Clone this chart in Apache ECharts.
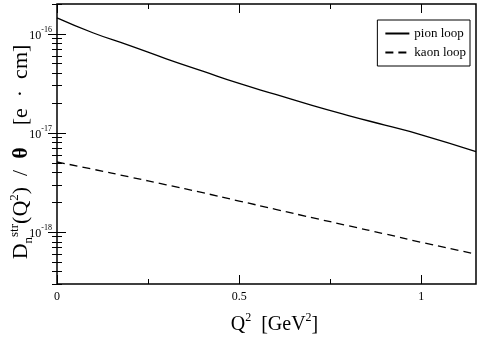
<!DOCTYPE html>
<html>
<head>
<meta charset="utf-8">
<script src="https://cdn.jsdelivr.net/npm/echarts@6/dist/echarts.min.js"></script>
<style>
html, body { margin: 0; padding: 0; background: #fff; }
#chart { width: 484px; height: 338px; }
</style>
</head>
<body>
<div id="chart"></div>
<script>
// Q^2 sample points [GeV^2]
var q2 = [0, 0.1, 0.2, 0.3, 0.4, 0.5, 0.6, 0.7, 0.8, 0.9, 1.0, 1.15];
// D_n^str / theta [e cm]
var pionLoop = [1.45e-16, 1.02e-16, 7.6e-17, 5.6e-17, 4.2e-17, 3.16e-17, 2.45e-17, 1.9e-17, 1.5e-17, 1.2e-17, 9.6e-18, 6.5e-18];
var kaonLoop = [5.1e-18, 4.3e-18, 3.6e-18, 3.0e-18, 2.5e-18, 2.06e-18, 1.7e-18, 1.4e-18, 1.16e-18, 9.6e-19, 7.9e-19, 6.0e-19];

var xMajorTicks = [0, 0.5, 1];
var xMinorTicks = [0.25, 0.75];
var yMajorTicks = [1e-18, 1e-17, 1e-16];
var yMin = 3e-19, yMax = 2e-16;
var xMin = 0, xMax = 1.15;

var yMinorTicks = [];
[1e-19, 1e-18, 1e-17, 1e-16].forEach(function (d) {
    for (var k = 2; k <= 9; k++) {
        if (k * d >= yMin && k * d <= yMax) { yMinorTicks.push(k * d); }
    }
});

var serif = 'Liberation Serif';

function pairs(vals) {
    return q2.map(function (x, i) { return [x, vals[i]]; });
}

function xAxisDef(pos, ticks, len, withLabels) {
    var a = {
        type: 'value', position: pos, offset: 0, min: xMin, max: xMax,
        axisLine: { show: false },
        splitLine: { show: false },
        axisTick: { show: true, inside: true, length: len, customValues: ticks,
            lineStyle: { color: '#000', width: 1 } },
        axisLabel: { show: false }
    };
    if (withLabels) {
        a.axisLabel = { show: true, customValues: ticks, margin: 7,
            fontFamily: serif, fontSize: 12, color: '#000',
            formatter: function (v) { return String(v); } };
        a.name = '{m|Q}{s|2}{m|  [GeV}{s|2}{m|]}';
        a.nameLocation = 'middle';
        a.nameGap = 28;
        a.nameMoveOverlap = false;
        a.nameTextStyle = { fontFamily: serif, padding: [0, 0, 0, 16], rich: {
            m: { fontFamily: serif, fontSize: 20, color: '#000', lineHeight: 23, verticalAlign: 'bottom' },
            s: { fontFamily: serif, fontSize: 12, color: '#000', lineHeight: 23, verticalAlign: 'top' }
        } };
    }
    return a;
}

function yAxisDef(pos, ticks, len, withLabels) {
    var a = {
        type: 'log', logBase: 10, position: pos, offset: 0, min: yMin, max: yMax,
        axisLine: { show: false },
        splitLine: { show: false },
        axisTick: { show: true, inside: true, length: len, customValues: ticks,
            lineStyle: { color: '#000', width: 1 } },
        axisLabel: { show: false }
    };
    if (withLabels) {
        a.axisLabel = { show: true, customValues: ticks, margin: 5,
            fontFamily: serif, fontSize: 12, color: '#000',
            formatter: function (v) { return '{b|10}{s|' + Math.round(Math.log10(v)) + '}'; },
            rich: {
                b: { fontFamily: serif, fontSize: 12, color: '#000', lineHeight: 16, verticalAlign: 'bottom' },
                s: { fontFamily: serif, fontSize: 8, color: '#000', lineHeight: 16, verticalAlign: 'top' }
            } };
        a.name = '{m|D}{sub|n}{sup|str}{m|(Q}{sup|2}{m|)  /  }{b|θ}{m|    [e  ·  cm]}';
        a.nameLocation = 'middle';
        a.nameRotate = 90;
        a.nameGap = 22;
        a.nameMoveOverlap = false;
        a.nameTextStyle = { fontFamily: serif, padding: [0, 16, 0, 0], rich: {
            m: { fontFamily: serif, fontSize: 22, color: '#000', lineHeight: 27 },
            b: { fontFamily: serif, fontSize: 22, fontWeight: 'bold', color: '#000', lineHeight: 27 },
            sup: { fontFamily: serif, fontSize: 13, color: '#000', lineHeight: 27, verticalAlign: 'top' },
            sub: { fontFamily: serif, fontSize: 13, color: '#000', lineHeight: 27, verticalAlign: 'bottom' }
        } };
    }
    return a;
}

var myChart = echarts.init(document.getElementById('chart'), null, { renderer: 'canvas' });
var option = {
    animation: false,
    backgroundColor: '#fff',
    grid: {
        left: 57, right: 8, top: 4, bottom: 54,
        containLabel: false,
        outerBoundsMode: 'none',
        show: true, borderColor: '#000', borderWidth: 1.5, backgroundColor: 'transparent'
    },
    legend: {
        orient: 'vertical',
        right: 14, top: 20,
        backgroundColor: '#fff',
        borderColor: '#000', borderWidth: 1,
        borderRadius: 0,
        padding: [7, 4, 7, 7],
        itemGap: 6,
        itemWidth: 24, itemHeight: 12,
        itemStyle: { opacity: 0 },
        textStyle: { fontFamily: serif, fontSize: 13, color: '#000' },
        data: ['pion loop', 'kaon loop']
    },
    xAxis: [
        xAxisDef('bottom', xMajorTicks, 9, true),
        xAxisDef('bottom', xMinorTicks, 5, false),
        xAxisDef('top', xMajorTicks, 9, false),
        xAxisDef('top', xMinorTicks, 5, false)
    ],
    yAxis: [
        yAxisDef('left', yMajorTicks, 9, true),
        yAxisDef('left', yMinorTicks, 5, false),
        yAxisDef('right', yMajorTicks, 9, false),
        yAxisDef('right', yMinorTicks, 5, false)
    ],
    series: [
        {
            name: 'pion loop', type: 'line', xAxisIndex: 0, yAxisIndex: 0,
            symbol: 'none', smooth: true,
            lineStyle: { color: '#000', width: 1.3, type: 'solid' },
            itemStyle: { color: '#000' },
            data: pairs(pionLoop)
        },
        {
            name: 'kaon loop', type: 'line', xAxisIndex: 0, yAxisIndex: 0,
            symbol: 'none', smooth: true,
            lineStyle: { color: '#000', width: 1.3, type: [8, 5] },
            itemStyle: { color: '#000' },
            data: pairs(kaonLoop)
        }
    ]
};
myChart.setOption(option);
</script>
</body>
</html>
